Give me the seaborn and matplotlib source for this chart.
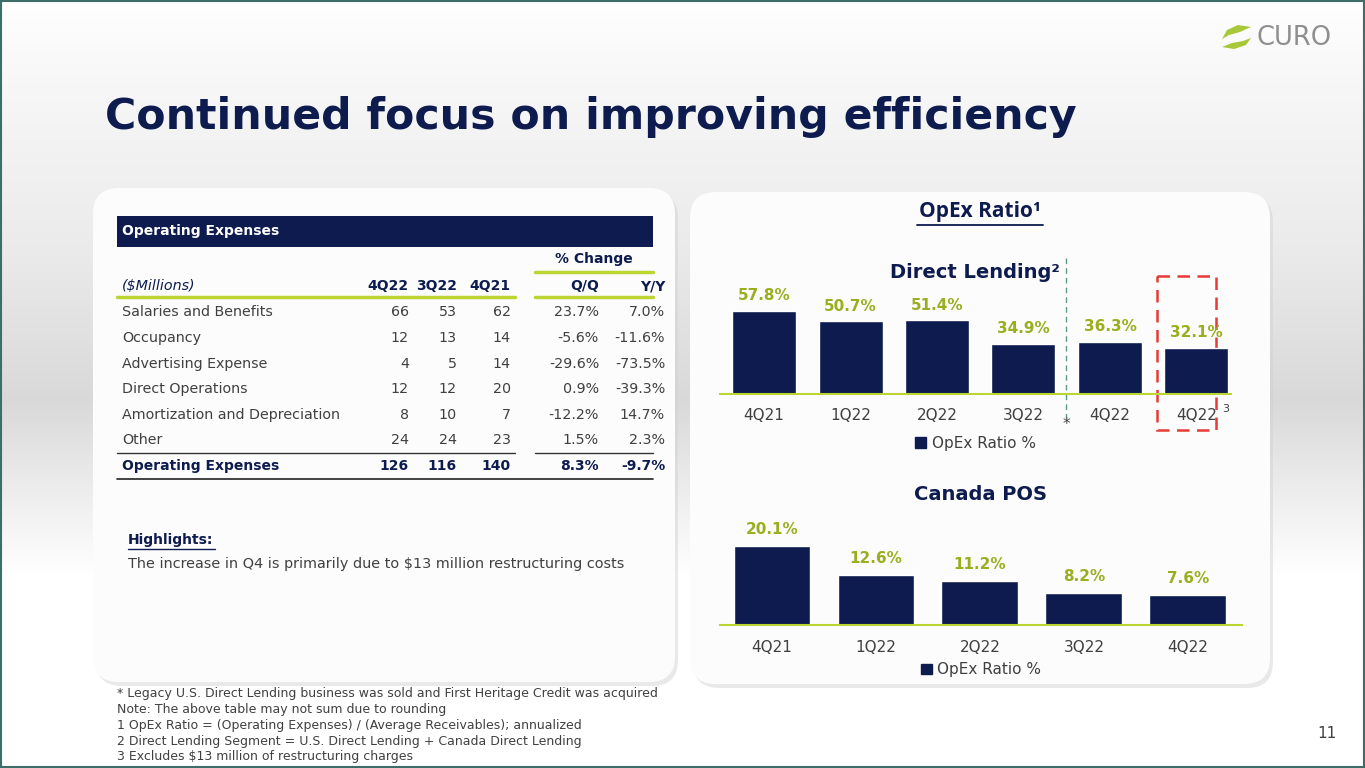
import numpy as np
import pandas as pd
import matplotlib
matplotlib.use("Agg")
import matplotlib.pyplot as plt
import seaborn as sns
from matplotlib.patches import FancyBboxPatch, Rectangle, Patch, Polygon

# ---- data ----
dl_quarters = ["4Q21", "1Q22", "2Q22", "3Q22", "4Q22", "4Q22 adj"]
dl_ticklabels = ["4Q21", "1Q22", "2Q22", "3Q22", "4Q22", "4Q22"]
dl_ratio = [57.8, 50.7, 51.4, 34.9, 36.3, 32.1]

pos_quarters = ["4Q21", "1Q22", "2Q22", "3Q22", "4Q22"]
pos_ratio = [20.1, 12.6, 11.2, 8.2, 7.6]

exp_items = ["Salaries and Benefits", "Occupancy", "Advertising Expense",
             "Direct Operations", "Amortization and Depreciation", "Other"]
exp_4q22 = [66, 12, 4, 12, 8, 24]
exp_3q22 = [53, 13, 5, 12, 10, 24]
exp_4q21 = [62, 14, 14, 20, 7, 23]
chg_qq = ["23.7%", "-5.6%", "-29.6%", "0.9%", "-12.2%", "1.5%"]
chg_yy = ["7.0%", "-11.6%", "-73.5%", "-39.3%", "14.7%", "2.3%"]
total_row = ["Operating Expenses", "126", "116", "140", "8.3%", "-9.7%"]
col_heads = ["4Q22", "3Q22", "4Q21", "Q/Q", "Y/Y"]

footnotes = [
    "* Legacy U.S. Direct Lending business was sold and First Heritage Credit was acquired",
    "Note: The above table may not sum due to rounding",
    "1 OpEx Ratio = (Operating Expenses) / (Average Receivables); annualized",
    "2 Direct Lending Segment = U.S. Direct Lending + Canada Direct Lending",
    "3 Excludes $13 million of restructuring charges",
]

navy = "#0d1b4e"
lime = "#bdd531"
olive = "#9aae1e"
dark = "#404040"

W, H = 1365, 768
sns.set_theme(style="white")
plt.rcParams["font.family"] = ["DejaVu Sans"]

fig = plt.figure(figsize=(W / 100, H / 100), dpi=100)
bg = fig.add_axes([0, 0, 1, 1], zorder=0)
bg.set_xlim(0, W)
bg.set_ylim(H, 0)
bg.axis("off")

# soft grey band behind the cards
yy = np.arange(H)
shade = np.interp(yy, [0, 80, 250, 400, 480, 575, H], [1.0, 0.97, 0.92, 0.85, 0.92, 1.0, 1.0])
grad = np.repeat(shade[:, None], 3, axis=1)[:, None, :]
bg.imshow(grad, extent=[0, W, H, 0], aspect="auto", zorder=0)
bg.set_xlim(0, W)
bg.set_ylim(H, 0)
bg.add_patch(Rectangle((1, 1), W - 2, H - 2, fill=False, ec="#3d6e68", lw=1.5, zorder=10))

# cards
for x0, y0, w, h in [(93, 188, 582, 494), (690, 192, 580, 492)]:
    bg.add_patch(FancyBboxPatch((x0 + 3, y0 + 4), w, h, boxstyle="round,pad=0,rounding_size=26",
                                fc="#d0d0d0", ec="none", alpha=0.45, zorder=1))
    bg.add_patch(FancyBboxPatch((x0, y0), w, h, boxstyle="round,pad=0,rounding_size=26",
                                fc="#fcfcfd", ec="none", zorder=2))

# title
title = bg.text(105, 117, "Continued focus on improving efficiency", color=navy,
                fontsize=36, fontweight="bold", va="center", zorder=5)
fig.canvas.draw()
tw = title.get_window_extent().width
title.set_fontsize(36 * 970 / tw)

# logo
bg.add_patch(Polygon([(1251, 27), (1238, 25), (1227, 30), (1222, 39), (1229, 35), (1240, 32)],
                     closed=True, fc="#a8c83a", ec="none", zorder=5))
bg.add_patch(Polygon([(1222, 47), (1234, 49), (1246, 45), (1251, 38), (1243, 41), (1232, 43)],
                     closed=True, fc="#a8c83a", ec="none", zorder=5))
bg.text(1257, 38, "CURO", color="#8e8e8e", fontsize=18.5, va="center", ha="left", zorder=5)

# ---- table ----
fs = 10.3
bg.add_patch(Rectangle((117, 216), 536, 31, fc=navy, ec="none", zorder=3))
bg.text(122, 231.5, "Operating Expenses", color="white", fontsize=10, fontweight="bold", va="center", zorder=4)
col_x = [409, 457, 511, 599, 665]
bg.text(594, 259, "% Change", color=navy, fontsize=10, fontweight="bold", va="center", ha="center", zorder=4)
bg.text(122, 286, "($Millions)", color=navy, fontsize=fs, style="italic", va="center", zorder=4)
for cx, head in zip(col_x, col_heads):
    bg.text(cx, 286, head, color=navy, fontsize=10, fontweight="bold", va="center", ha="right", zorder=4)

row_y = [312, 338, 364, 389, 415, 440]
for i, y in enumerate(row_y):
    vals = [exp_4q22[i], exp_3q22[i], exp_4q21[i], chg_qq[i], chg_yy[i]]
    bg.text(122, y, exp_items[i], color=dark, fontsize=fs, va="center", zorder=4)
    for cx, v in zip(col_x, vals):
        bg.text(cx, y, str(v), color=dark, fontsize=fs, va="center", ha="right", zorder=4)
bg.text(122, 466, total_row[0], color=navy, fontsize=10, fontweight="bold", va="center", zorder=4)
for cx, v in zip(col_x, total_row[1:]):
    bg.text(cx, 466, v, color=navy, fontsize=10, fontweight="bold", va="center", ha="right", zorder=4)

for xs in [(117, 515), (535, 653)]:
    bg.plot(xs, [297, 297], color=lime, lw=2.5, zorder=4)
    bg.plot(xs, [453, 453], color="#333333", lw=1, zorder=4)
bg.plot([535, 653], [272, 272], color=lime, lw=2.5, zorder=4)
bg.plot([117, 653], [479, 479], color="#222222", lw=1.2, zorder=4)

bg.text(128, 540, "Highlights:", color=navy, fontsize=10, fontweight="bold", va="center", zorder=4)
bg.plot([128, 215], [549, 549], color=navy, lw=1, zorder=4)
bg.text(128, 564, "The increase in Q4 is primarily due to $13 million restructuring costs",
        color=dark, fontsize=10.4, va="center", zorder=4)

for i, line in enumerate(footnotes):
    bg.text(117, 694 + i * 15.7, line, color=dark, fontsize=9, va="center", zorder=4)
bg.text(1327, 733, "11", color=dark, fontsize=11, va="center", ha="center", zorder=4)

# ---- right card headings ----
bg.text(980, 212, "OpEx Ratio¹", color=navy, fontsize=15, fontweight="bold", va="center", ha="center",
        family="Open Sans", zorder=4)
bg.plot([917, 1043], [225, 225], color=navy, lw=1.3, zorder=4)
bg.text(975, 272, "Direct Lending²", color=navy, fontsize=14, fontweight="bold", va="center", ha="center", zorder=4)
bg.text(980, 495, "Canada POS", color=navy, fontsize=14, fontweight="bold", va="center", ha="center", zorder=4)

# divider and adjusted-quarter box
bg.plot([1066, 1066], [258, 418], color="#5c9a8c", lw=1, ls=(0, (4, 3)), zorder=4)
bg.text(1066, 425, "*", color=dark, fontsize=11, va="center", ha="center", zorder=4)
bg.add_patch(Rectangle((1157, 276), 59, 154, fill=False, ec="#e63b35", lw=1.8,
                       ls=(0, (5, 3)), zorder=4))
bg.text(1226, 409, "3", color=dark, fontsize=8, va="center", ha="center", zorder=4)


def bar_panel(ax, cats, ticklabels, vals, xlim, ymax, label_pad, tick_pad, legend_y):
    df = pd.DataFrame({"quarter": cats, "ratio": vals})
    sns.barplot(data=df, x="quarter", y="ratio", color=navy, saturation=1, width=0.74, ax=ax)
    ax.bar_label(ax.containers[0], labels=[f"{v}%" for v in vals], padding=label_pad,
                 color=olive, fontsize=11, fontweight="bold")
    ax.set_xlim(*xlim)
    ax.set_ylim(0, ymax)
    ax.set_facecolor("none")
    ax.set_xlabel("")
    ax.set_ylabel("")
    ax.set_yticks([])
    ax.set_xticks(range(len(cats)))
    ax.set_xticklabels(ticklabels, color=dark, fontsize=11)
    ax.tick_params(axis="x", length=0, pad=tick_pad)
    for s in ["top", "left", "right"]:
        ax.spines[s].set_visible(False)
    ax.spines["bottom"].set_color(lime)
    ax.spines["bottom"].set_linewidth(1.5)
    ax.legend(handles=[Patch(color=navy, label="OpEx Ratio %")], loc="center",
              bbox_to_anchor=(0.5, legend_y), frameon=False, fontsize=11,
              handlelength=0.7, handleheight=0.7, handletextpad=0.35, labelcolor=dark)


def px_axes(left, right, top, bottom):
    return fig.add_axes([left / W, (H - bottom) / H, (right - left) / W, (bottom - top) / H], zorder=3)


ax_dl = px_axes(720, 1231, 260, 394)
bar_panel(ax_dl, dl_quarters, dl_ticklabels, dl_ratio, (-0.51, 5.4), 134 / 1.436, 5.5, 10, -0.37)

ax_pos = px_axes(720, 1242, 510, 625)
bar_panel(ax_pos, pos_quarters, pos_quarters, pos_ratio, (-0.5, 4.52), 115 / 3.93, 6.5, 11, -0.39)

fig.savefig("out.png", dpi=100)
